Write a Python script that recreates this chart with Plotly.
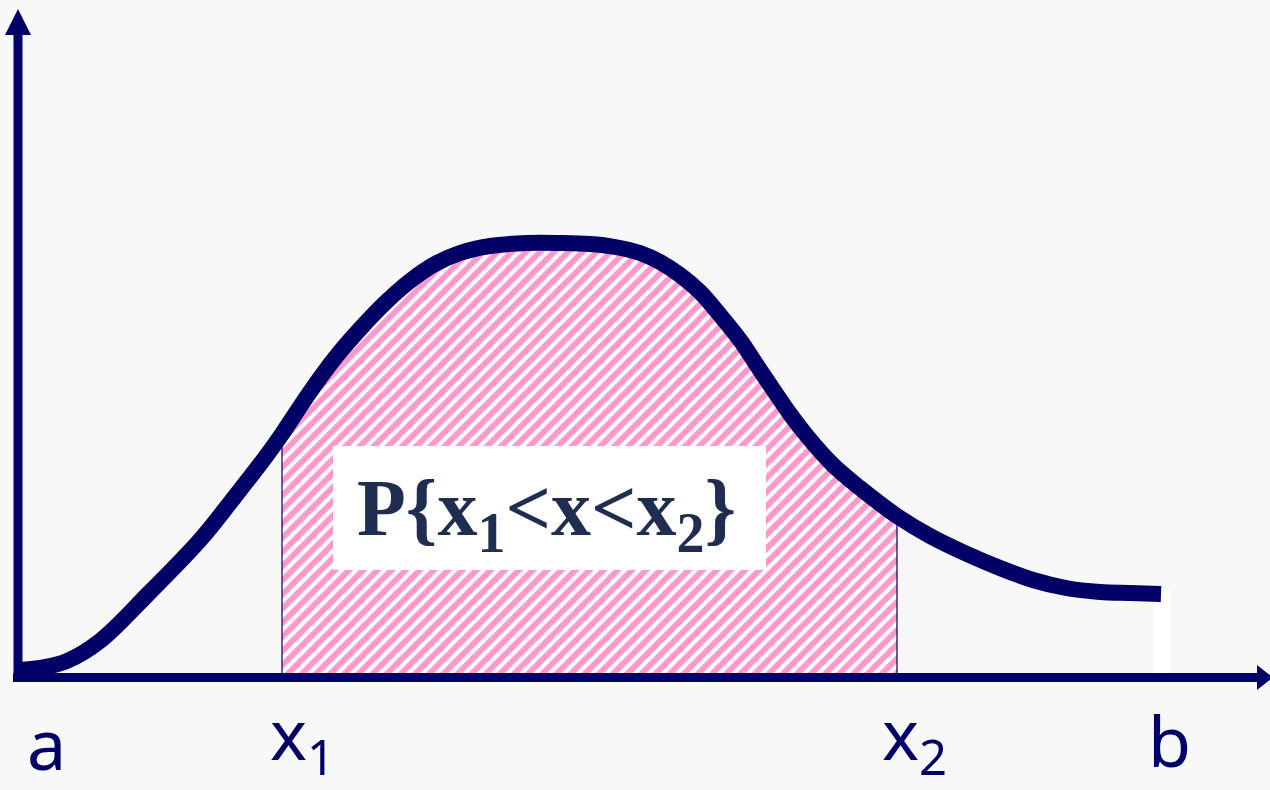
import plotly.graph_objects as go

# ---- data (density curve; x/y in chart units) ----
curve_x = [20, 40, 67, 100, 150, 200, 233, 267, 282, 310, 335, 360, 385, 410,
           435, 460, 490, 527, 560, 590, 615, 640, 660, 680, 700, 720, 740,
           760, 790, 807, 833, 860, 897, 930, 967, 1000, 1033, 1066, 1100,
           1130, 1161]
curve_y = [7, 9, 16, 36, 85, 137, 178, 222, 243, 285, 319, 348, 374, 396,
           413, 424, 431, 434, 434, 433, 430, 424, 415, 402, 385, 362, 337,
           307, 263, 241, 212, 189, 161, 141, 123, 109, 97, 89, 85,
           84, 83]

bound_names = ["a", "x<sub>1</sub>", "x<sub>2</sub>", "b"]
bound_x = [20, 282, 897, 1161]
x1, x2 = bound_x[1], bound_x[2]

prob_label = "P{x<sub>1</sub>&lt;x&lt;x<sub>2</sub>}"

NAVY = "#000066"
PINK = "#ff3399"
BG = "#f8f8f8"

fig = go.Figure()

# hatched area between x1 and x2
fx = [x1] + [x for x in curve_x if x1 <= x <= x2] + [x2]
fy = [0] + [y for x, y in zip(curve_x, curve_y) if x1 <= x <= x2] + [0]
fig.add_trace(go.Scatter(
    x=fx, y=fy, mode="lines", fill="toself",
    fillcolor="white",
    fillpattern=dict(shape="/", fgcolor=PINK, bgcolor="white", size=10, solidity=0.6),
    line=dict(color=NAVY, width=1.2), hoverinfo="skip", showlegend=False,
))

# density curve
fig.add_trace(go.Scatter(
    x=curve_x, y=curve_y, mode="lines",
    line=dict(color=NAVY, width=16, shape="spline", smoothing=1.0),
    hoverinfo="skip", showlegend=False,
))

shapes = []
# small white artifact near b
shapes.append(dict(type="rect", xref="x", yref="y", x0=1153, x1=1171, y0=4, y1=87,
                   fillcolor="white", line=dict(width=0), layer="below"))
# axes
shapes.append(dict(type="line", xref="x", yref="y", x0=18, x1=18, y0=-4, y1=645,
                   line=dict(color=NAVY, width=9), layer="above"))
shapes.append(dict(type="line", xref="x", yref="y", x0=13, x1=1260, y0=-0.5, y1=-0.5,
                   line=dict(color=NAVY, width=9), layer="above"))
shapes.append(dict(type="path", xref="x", yref="y",
                   path="M 5,642 L 18,668 L 31,642 Z",
                   fillcolor=NAVY, line=dict(width=0), layer="above"))
shapes.append(dict(type="path", xref="x", yref="y",
                   path="M 1257,12 L 1273,-0.5 L 1257,-13 Z",
                   fillcolor=NAVY, line=dict(width=0), layer="above"))
# white label box
shapes.append(dict(type="rect", xref="x", yref="y", x0=333, x1=766, y0=107, y1=231,
                   fillcolor="white", line=dict(width=0), layer="above"))

annotations = [dict(
    x=546, y=163, xref="x", yref="y", text=prob_label, showarrow=False,
    xanchor="center", yanchor="middle",
    font=dict(family="Liberation Serif", size=80, color="#1f2d50", weight="bold"),
)]

label_left = [25, 268, 880, 1146]
label_y = [-66, -60, -60, -63]
for name, lx, ly in zip(bound_names, label_left, label_y):
    annotations.append(dict(
        x=lx, y=ly, xref="x", yref="y", text=name, showarrow=False,
        xanchor="left", yanchor="middle",
        font=dict(family="Noto Sans", size=70, color=NAVY),
    ))

fig.update_layout(
    width=1270, height=790,
    margin=dict(l=0, r=0, t=0, b=0),
    paper_bgcolor=BG, plot_bgcolor=BG,
    xaxis=dict(range=[0, 1270], visible=False, fixedrange=True),
    yaxis=dict(range=[-113, 677], visible=False, fixedrange=True),
    shapes=shapes, annotations=annotations,
    showlegend=False,
)

fig.write_html(
    "out.html",
    config={"displayModeBar": False},
    post_script="document.body.style.margin='0';document.body.style.overflow='hidden';",
)
